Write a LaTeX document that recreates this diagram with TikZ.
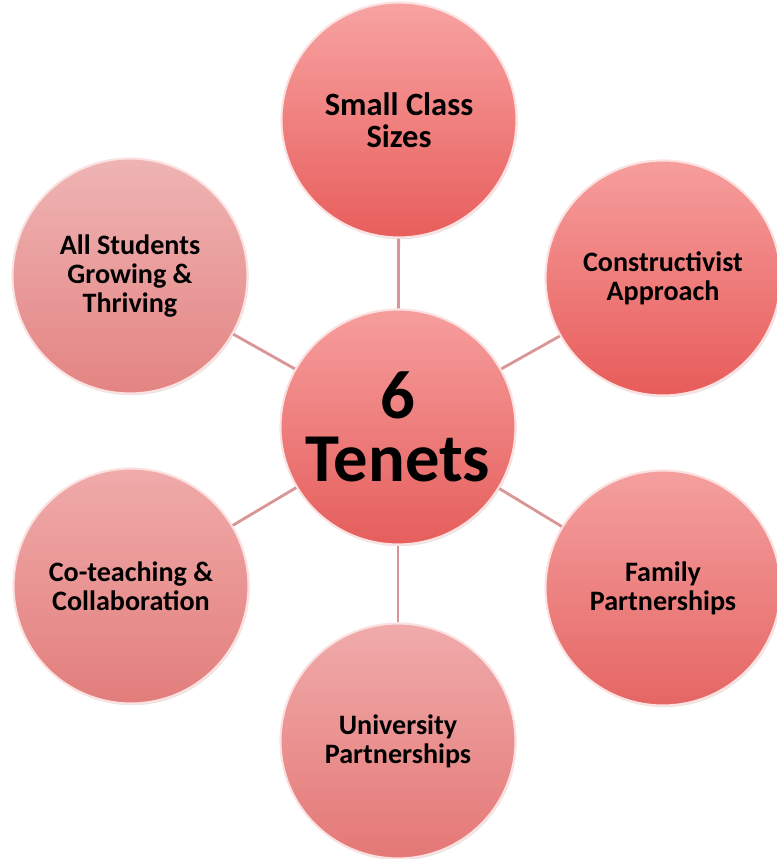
\documentclass[tikz,border=0pt]{standalone}
\usepackage{fontspec}
\setmainfont{Carlito}
\usetikzlibrary{shadows}

\definecolor{rimpink}{RGB}{252,225,225}
\definecolor{linkpink}{RGB}{218,150,150}

\begin{document}
\begin{tikzpicture}

\tikzset{vertex/.style = {shape=circle, draw=rimpink, line width=1.2pt, minimum size=4.7cm,
  align=center, font=\bfseries\fontsize{16}{16.5}\selectfont, text=black,
  drop shadow={opacity=0.2, shadow xshift=0.6pt, shadow yshift=-1pt}}}
\tikzset{bigvertex/.style = {vertex, font=\bfseries\fontsize{18.5}{18.5}\selectfont}}
\tikzset{hub/.style = {vertex, font=\bfseries\fontsize{39}{36}\selectfont}}
\tikzset{edge/.style = {draw=linkpink, line width=1.6pt}}

\useasboundingbox (0,0) rectangle (15.52,17.18);

% vertices
\node[hub, top color={rgb,255:red,246;green,158;blue,157}, bottom color={rgb,255:red,229;green,94;blue,92}] (0) at (7.96,8.64) {6\\Tenets};
\node[bigvertex, top color={rgb,255:red,247;green,163;blue,162}, bottom color={rgb,255:red,232;green,94;blue,92}] (1) at (7.98,14.78) {Small Class\\Sizes};
\node[vertex, top color={rgb,255:red,246;green,158;blue,157}, bottom color={rgb,255:red,231;green,92;blue,90}] (2) at (13.26,11.62) {Constructivist\\Approach};
\node[vertex, top color={rgb,255:red,244;green,160;blue,159}, bottom color={rgb,255:red,229;green,102;blue,100}] (3) at (13.26,5.42) {Family\\Partnerships};
\node[vertex, top color={rgb,255:red,240;green,171;blue,171}, bottom color={rgb,255:red,228;green,120;blue,118}] (4) at (7.96,2.36) {University\\Partnerships};
\node[vertex, top color={rgb,255:red,240;green,171;blue,170}, bottom color={rgb,255:red,226;green,126;blue,124}] (5) at (2.62,5.46) {Co-teaching \&\\Collaboration};
\node[vertex, top color={rgb,255:red,239;green,180;blue,180}, bottom color={rgb,255:red,227;green,132;blue,130}] (6) at (2.60,11.66) {All Students\\Growing \&\\Thriving};

%edges
\draw [edge] (0) -- (1);
\draw [edge] (0) -- (2);
\draw [edge] (0) -- (3);
\draw [edge] (0) -- (4);
\draw [edge] (0) -- (5);
\draw [edge] (0) -- (6);

\end{tikzpicture}
\end{document}
